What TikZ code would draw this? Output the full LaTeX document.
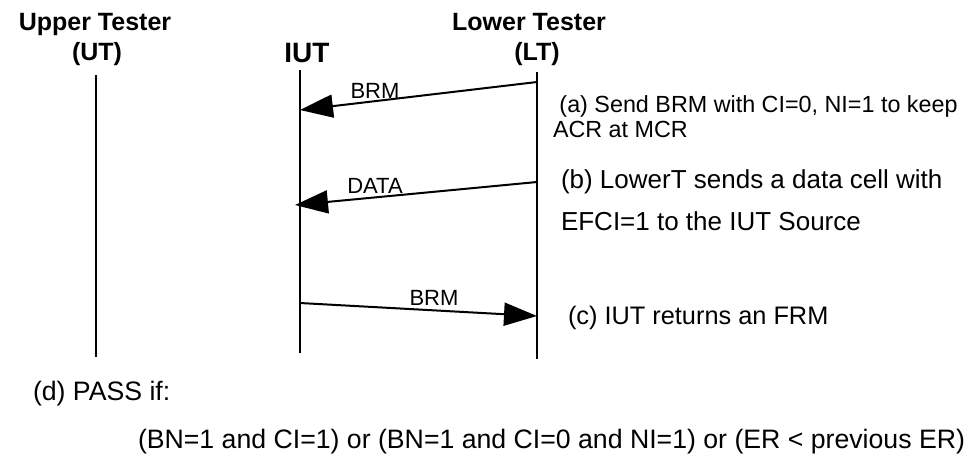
\documentclass[tikz,border=0pt]{standalone}
\usepackage{fontspec}
\setmainfont{Liberation Sans}
\usetikzlibrary{arrows.meta}

\tikzset{every picture/.style={line width=1.5pt}}
\tikzset{
  tester/.style={inner sep=0pt,anchor=base,font=\fontsize{18.75}{22}\selectfont\bfseries},
  lifeline/.style={line width=1.5pt},
  msg/.style={line width=1.5pt,-{Triangle[length=24.75pt,width=17.25pt]}},
  msglabel/.style={inner sep=0pt,anchor=base,font=\fontsize{16.5}{19}\selectfont},
  note/.style={inner sep=0pt,align=left,font=\fontsize{19.5}{31.5}\selectfont}
}

\begin{document}
\begin{tikzpicture}[x=0.75pt,y=0.75pt,yscale=-1,xscale=1]
		\useasboundingbox (0,0) rectangle (974,455);
		
		% Text Node
		\draw (95,30) node [tester] (uptitle) {Upper Tester};
		% Text Node
		\draw (97,60) node [tester] (ut) {(UT)};
		% Text Node
		\draw (529,30) node [tester] (lowtitle) {Lower Tester};
		% Text Node
		\draw (537,60) node [tester] (lt) {(LT)};
		% Text Node
		\draw (307,62) node [tester,font=\fontsize{21}{25}\selectfont\bfseries] (iut) {IUT};
		
		% Lifeline ends
		\coordinate (ut-top) at (96,75);
		\coordinate (ut-bot) at (96,357);
		\coordinate (iut-top) at (300,70);
		\coordinate (iut-bot) at (300,353);
		\coordinate (lt-top) at (537,72);
		\coordinate (lt-bot) at (537,359);
		%Straight Lines
		\draw [lifeline] (ut-top) -- (ut-bot);
		%Straight Lines
		\draw [lifeline] (iut-top) -- (iut-bot);
		%Straight Lines
		\draw [lifeline] (lt-top) -- (lt-bot);
		
		% Message ends
		\coordinate (lt-a) at (537,82);
		\coordinate (iut-a) at (300,110);
		\coordinate (lt-b) at (537,182);
		\coordinate (iut-b) at (295,205);
		\coordinate (iut-c) at (300,303);
		\coordinate (lt-c) at (537,316);
		%Straight Lines
		\draw [msg] (lt-a) -- (iut-a);
		%Straight Lines
		\draw [msg] (lt-b) -- (iut-b);
		%Straight Lines
		\draw [msg] (iut-c) -- (lt-c);
		
		% Text Node
		\draw (375,98) node [msglabel] (brm-a) {BRM};
		% Text Node
		\draw (375,193) node [msglabel] (data-b) {DATA};
		% Text Node
		\draw (434,305) node [msglabel] (brm-c) {BRM};
		
		% Text Node
		\draw (552,95) node [note,anchor=north west,font=\fontsize{17.5}{18.75}\selectfont] (note-a) {\ (a) Send BRM with CI=0, NI=1 to keep\\ACR at MCR};
		% Text Node
		\draw (560,169) node [note,anchor=north west] (note-b) {(b) LowerT sends a data cell with\\EFCI=1 to the IUT Source};
		% Text Node
		\draw (567,318) node [note,anchor=west,font=\fontsize{19}{22}\selectfont] (note-c) {(c) IUT returns an FRM};
		% Text Node
		\draw (32,394) node [note,anchor=west,font=\fontsize{20}{24}\selectfont] (pass) {(d) PASS if:};
		% Text Node
		\draw (137,442) node [note,anchor=west,font=\fontsize{20}{24}\selectfont] (cond) {(BN=1 and CI=1) or (BN=1 and CI=0 and NI=1) or (ER < previous ER)};
		
	\end{tikzpicture}
\end{document}
